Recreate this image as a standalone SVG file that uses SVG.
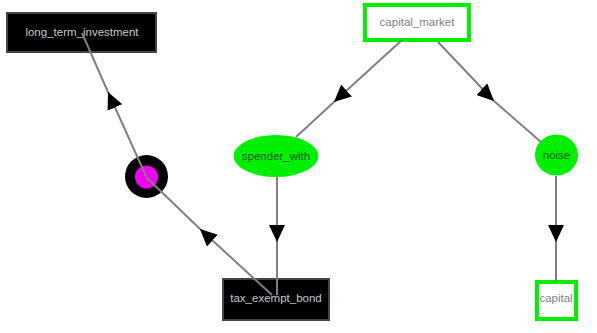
<svg xmlns="http://www.w3.org/2000/svg" width="597" height="333" viewBox="0 0 597 333">
<style>
text{font-family:"Liberation Sans",Arial,sans-serif;font-size:11.5px;text-anchor:middle;dominant-baseline:central}
.dark rect{fill:#000;stroke:#444;stroke-width:2}
.dark text{fill:#c8c8c8}
.gbox rect{fill:#fff;stroke:#00ee00;stroke-width:4}
.gbox text{fill:#808080}
.gell ellipse{fill:#00ee00;stroke:none}
.gell text{fill:#0a5a0a}
.edge{fill:none;stroke:#808080;stroke-width:2;marker-mid:url(#ah)}
</style>
<defs>
<marker id="ah" markerWidth="18" markerHeight="16" refX="17" refY="8" orient="auto" markerUnits="userSpaceOnUse">
<path d="M0,0 L17,8 L0,16 z" fill="#000"/>
</marker>
</defs>
<rect width="597" height="333" fill="#fff"/>
<g id="long_term_investment" class="dark"><rect x="7" y="13" width="149" height="39"/><text x="82" y="32">long_term_investment</text></g>
<g id="capital_market" class="gbox"><rect x="365" y="5" width="104" height="35"/><text x="417" y="22">capital_market</text></g>
<g id="spender_with" class="gell"><ellipse cx="276" cy="156" rx="42.5" ry="21"/><text x="276" y="156">spender_with</text></g>
<g id="noise" class="gell"><ellipse cx="556.5" cy="155" rx="21.5" ry="20.5"/><text x="556.5" y="155">noise</text></g>
<g id="junction"><circle cx="146.5" cy="176.5" r="21.5" fill="#000"/><circle cx="146.5" cy="177" r="11.5" fill="#ee00ee"/></g>
<g id="tax_exempt_bond" class="dark"><rect x="223" y="279" width="106" height="41"/><text x="276" y="298">tax_exempt_bond</text></g>
<g id="capital" class="gbox"><rect x="537" y="282" width="39" height="37"/><text x="556" y="298">capital</text></g>
<g id="connectors">
<polyline class="edge" points="402,40 334,102 296,137"/>
<polyline class="edge" points="438,42 494,101 541,142"/>
<polyline class="edge" points="277,177 277,242 277,295"/>
<polyline class="edge" points="556,176 556,242 556,281"/>
<polyline class="edge" points="272,295 200,229 146,177"/>
<polyline class="edge" points="146,176 108,92 82,33"/>
</g>
</svg>
